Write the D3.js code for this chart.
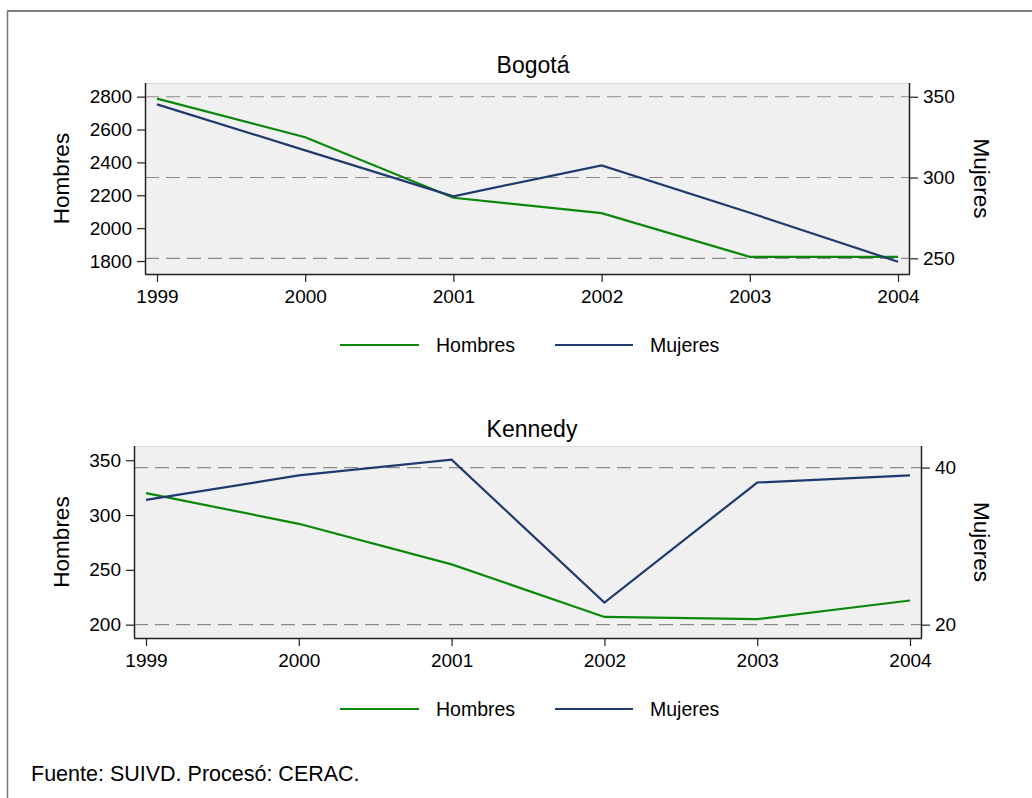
<!DOCTYPE html>
<html>
<head>
<meta charset="utf-8">
<script src="https://cdn.jsdelivr.net/npm/d3@7"></script>
<style>
  body { margin: 0; background: #fff; }
  text { font-family: "Liberation Sans", Arial, sans-serif; fill: #000; }
</style>
</head>
<body>
<div id="chart"></div>
<script>
// data
let years = [1999, 2000, 2001, 2002, 2003, 2004];
let bogotaHombres = [2788, 2553, 2185, 2091, 1825, 1825];
let bogotaMujeres = [345.3, 316.8, 288.4, 307.5, 278.2, 247.9];
let kennedyHombres = [320, 292, 255, 207, 205, 222];
let kennedyMujeres = [35.9, 39.0, 41.0, 22.8, 38.1, 39.0];

let bogotaLeftTicks = [1800, 2000, 2200, 2400, 2600, 2800];
let bogotaRightTicks = [250, 300, 350];
let kennedyLeftTicks = [200, 250, 300, 350];
let kennedyRightTicks = [20, 40];

let seriesNames = ["Hombres", "Mujeres"];
let colors = { Hombres: "#0b870b", Mujeres: "#1f3a6e" };

let width = 1032;
let height = 798;

let svg = d3.select("#chart")
  .append("svg")
  .attr("width", width)
  .attr("height", height);

// outer frame (only top and left edges show)
svg.append("line").attr("x1", 7).attr("x2", width).attr("y1", 11).attr("y2", 11)
  .attr("stroke", "#000").attr("stroke-width", 1.2);
svg.append("line").attr("x1", 7.5).attr("x2", 7.5).attr("y1", 11).attr("y2", height)
  .attr("stroke", "#777").attr("stroke-width", 1.5);

function drawPanel(p) {
  let g = svg.append("g");

  let x = d3.scaleLinear().domain([1999, 2004]).range([p.left + 12, p.right - 12]);
  let yL = d3.scaleLinear().domain(p.leftDomain).range([p.bottom, p.top]);
  let yR = d3.scaleLinear().domain(p.rightDomain).range([p.bottom, p.top]);

  // plot background
  g.append("rect")
    .attr("x", p.left).attr("y", p.top)
    .attr("width", p.right - p.left).attr("height", p.bottom - p.top)
    .attr("fill", "#f0f0f0");
  g.append("line")
    .attr("x1", p.left).attr("x2", p.right).attr("y1", p.top + 0.5).attr("y2", p.top + 0.5)
    .attr("stroke", "#dadada");

  // dashed grid from the right axis
  g.selectAll(".grid")
    .data(p.rightTicks)
    .enter().append("line")
    .attr("x1", p.left).attr("x2", p.right)
    .attr("y1", d => yR(d)).attr("y2", d => yR(d))
    .attr("stroke", "#8a8a8a").attr("stroke-width", 1.1)
    .attr("stroke-dasharray", "14,7");

  let fontSize = "19px";

  let axL = g.append("g")
    .attr("transform", "translate(" + p.left + ",0)")
    .call(d3.axisLeft(yL).tickValues(p.leftTicks).tickSize(8).tickPadding(5).tickFormat(d3.format("d")));
  let axR = g.append("g")
    .attr("transform", "translate(" + p.right + ",0)")
    .call(d3.axisRight(yR).tickValues(p.rightTicks).tickSize(8).tickPadding(5).tickFormat(d3.format("d")));
  let axB = g.append("g")
    .attr("transform", "translate(0," + p.bottom + ")")
    .call(d3.axisBottom(x).tickValues(years).tickSize(8).tickPadding(8).tickFormat(d3.format("d")));

  [axL, axR, axB].forEach(function(ax) {
    ax.select(".domain").attr("stroke", "#222").attr("stroke-width", 1.5);
    ax.selectAll(".tick line").attr("stroke", "#222").attr("stroke-width", 1.2);
    ax.selectAll("text").attr("font-size", fontSize).attr("fill", "#000")
      .attr("font-family", "Liberation Sans, Arial, sans-serif");
  });
  // keep axis lines flush with the plot box (no outer stubs)
  axL.select(".domain").attr("d", "M0.5," + (p.top) + "V" + p.bottom);
  axR.select(".domain").attr("d", "M-0.5," + (p.top) + "V" + p.bottom);
  axB.select(".domain").attr("d", "M" + p.left + ",0.5H" + p.right);

  // lines
  let lineL = d3.line().x((d, i) => x(years[i])).y(d => yL(d));
  let lineR = d3.line().x((d, i) => x(years[i])).y(d => yR(d));

  g.append("path").datum(p.hombres)
    .attr("d", lineL).attr("fill", "none")
    .attr("stroke", colors.Hombres).attr("stroke-width", 2.2);
  g.append("path").datum(p.mujeres)
    .attr("d", lineR).attr("fill", "none")
    .attr("stroke", colors.Mujeres).attr("stroke-width", 2.2);

  // titles
  g.append("text")
    .attr("x", p.titleX).attr("y", p.titleY)
    .attr("text-anchor", "middle").attr("font-size", "23px")
    .text(p.title);

  let midY = (p.top + p.bottom) / 2;
  g.append("text")
    .attr("transform", "translate(69," + midY + ") rotate(-90)")
    .attr("text-anchor", "middle").attr("font-size", "22.5px")
    .text("Hombres");
  g.append("text")
    .attr("transform", "translate(974," + midY + ") rotate(90)")
    .attr("text-anchor", "middle").attr("font-size", "22.5px")
    .text("Mujeres");

  // legend
  let legendItems = [
    { name: seriesNames[0], x1: 340, x2: 419, tx: 436 },
    { name: seriesNames[1], x1: 555, x2: 633, tx: 650 }
  ];
  let lg = g.append("g");
  lg.selectAll("line")
    .data(legendItems)
    .enter().append("line")
    .attr("x1", d => d.x1).attr("x2", d => d.x2)
    .attr("y1", p.legendY).attr("y2", p.legendY)
    .attr("stroke", d => colors[d.name]).attr("stroke-width", 2.2);
  lg.selectAll("text")
    .data(legendItems)
    .enter().append("text")
    .attr("x", d => d.tx).attr("y", p.legendY + 7)
    .attr("font-size", "19.5px")
    .text(d => d.name);
}

drawPanel({
  title: "Bogotá", titleX: 533, titleY: 73,
  left: 145, right: 910, top: 83, bottom: 274,
  leftDomain: [1721, 2883], rightDomain: [240.3, 358.5],
  leftTicks: bogotaLeftTicks, rightTicks: bogotaRightTicks,
  hombres: bogotaHombres, mujeres: bogotaMujeres,
  legendY: 345
});

drawPanel({
  title: "Kennedy", titleX: 532, titleY: 437,
  left: 134, right: 922, top: 446, bottom: 638,
  leftDomain: [187.8, 363], rightDomain: [18.3, 42.75],
  leftTicks: kennedyLeftTicks, rightTicks: kennedyRightTicks,
  hombres: kennedyHombres, mujeres: kennedyMujeres,
  legendY: 709
});

svg.append("text")
  .attr("x", 31).attr("y", 781)
  .attr("font-size", "21.5px")
  .text("Fuente: SUIVD. Procesó: CERAC.");
</script>
</body>
</html>
